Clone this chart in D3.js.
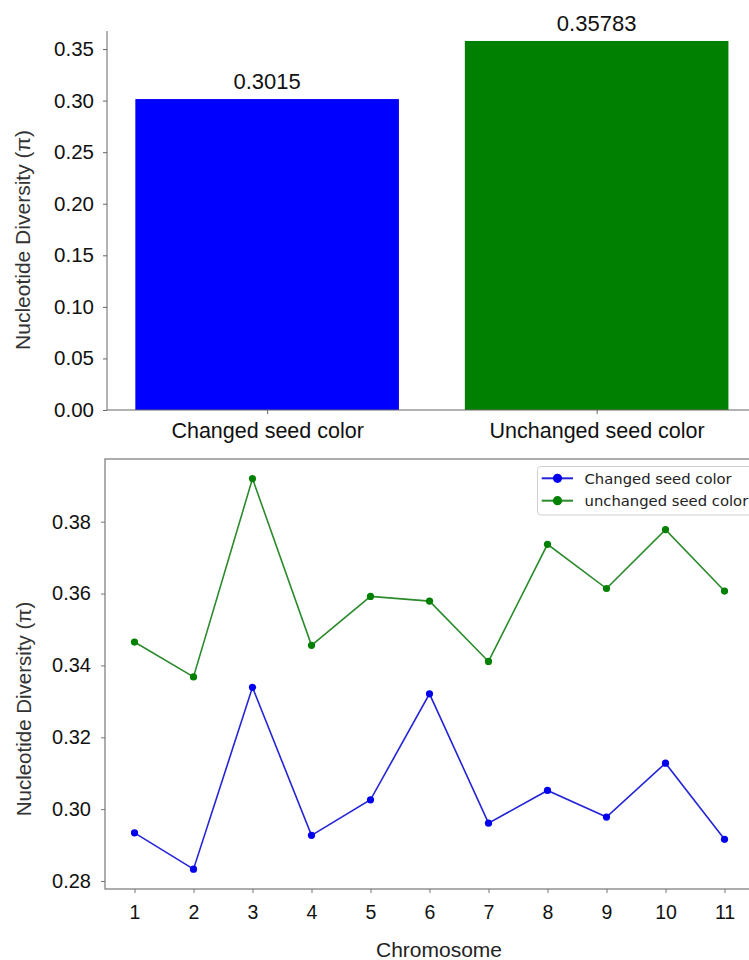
<!DOCTYPE html>
<html>
<head>
<meta charset="utf-8">
<script src="https://cdn.jsdelivr.net/npm/d3@7"></script>
<style>
  html, body { margin: 0; padding: 0; background: #fff; }
  svg { display: block; }
</style>
</head>
<body>
<svg id="chart" width="749" height="960"></svg>
<script>
// Mean nucleotide diversity per group (bar panel)
const groups = ["Changed seed color", "Unchanged seed color"];
const groupPi = [0.3015, 0.35783];
const groupColors = ["#0000ff", "#008000"];
const barTicks = [0, 0.05, 0.10, 0.15, 0.20, 0.25, 0.30, 0.35];

// Per-chromosome nucleotide diversity (line panel)
const chromosomes = [1, 2, 3, 4, 5, 6, 7, 8, 9, 10, 11];
const changedPi = [0.2934, 0.2833, 0.3339, 0.2927, 0.3026, 0.3321, 0.2961, 0.3052, 0.2978, 0.3128, 0.2916];
const unchangedPi = [0.3465, 0.3368, 0.3920, 0.3456, 0.3592, 0.3579, 0.3411, 0.3737, 0.3614, 0.3778, 0.3607];
const seriesNames = ["Changed seed color", "unchanged seed color"];
const lineTicks = [0.28, 0.30, 0.32, 0.34, 0.36, 0.38];

const svg = d3.select("#chart");
const FONT = "'Liberation Sans', Arial, sans-serif";
const yLabel = "Nucleotide Diversity (\u03c0)";

// ---------- Bar panel ----------
const barBox = { left: 107, right: 766, top: 31, bottom: 410 };
const xb = d3.scaleLinear().domain([-0.486, 1.514]).range([barBox.left, barBox.right]);
const yb = d3.scaleLinear().domain([0, 0.3675]).range([barBox.bottom, barBox.top]);
const barW = xb(0.8) - xb(0);

const gBar = svg.append("g");
gBar.selectAll("rect.bar")
  .data(groupPi)
  .join("rect")
  .attr("class", "bar")
  .attr("x", (d, i) => xb(i) - barW / 2)
  .attr("y", d => yb(d))
  .attr("width", barW)
  .attr("height", d => yb(0) - yb(d))
  .attr("fill", (d, i) => groupColors[i]);

gBar.selectAll("text.val")
  .data(groupPi)
  .join("text")
  .attr("class", "val")
  .attr("x", (d, i) => xb(i))
  .attr("y", d => yb(d) - 10)
  .attr("text-anchor", "middle")
  .attr("font-family", FONT)
  .attr("font-size", 22)
  .attr("fill", "#111")
  .text(d => d);

const yAxisBar = d3.axisLeft(yb).tickValues(barTicks).tickFormat(d3.format(".2f"))
  .tickSize(4).tickPadding(9);
const gyb = gBar.append("g").attr("transform", `translate(${barBox.left},0)`).call(yAxisBar);
gyb.select(".domain").remove();
gyb.selectAll(".tick line").attr("stroke", "#666");
gyb.selectAll(".tick text").attr("font-family", FONT).attr("font-size", 20.5).attr("fill", "#111");
gBar.append("line").attr("x1", barBox.left).attr("x2", barBox.left)
  .attr("y1", barBox.top).attr("y2", barBox.bottom).attr("stroke", "#666").attr("stroke-width", 1);

const xAxisBar = d3.axisBottom(xb).tickValues([0, 1]).tickFormat((d) => groups[d])
  .tickSize(4).tickPadding(9);
const gxb = gBar.append("g").attr("transform", `translate(0,${barBox.bottom})`).call(xAxisBar);
gxb.select(".domain").remove();
gxb.selectAll(".tick line").attr("stroke", "#666");
gxb.selectAll(".tick text").attr("font-family", FONT).attr("font-size", 21.5).attr("fill", "#111");
gBar.append("line").attr("x1", barBox.left).attr("x2", 749)
  .attr("y1", barBox.bottom).attr("y2", barBox.bottom).attr("stroke", "#666").attr("stroke-width", 1);

gBar.append("text")
  .attr("transform", `translate(22,240) rotate(-90)`)
  .attr("text-anchor", "middle")
  .attr("dominant-baseline", "central")
  .attr("font-family", FONT)
  .attr("font-size", 21)
  .attr("fill", "#333")
  .text(yLabel);

// ---------- Line panel ----------
const lineBox = { left: 105, right: 754, top: 459, bottom: 889 };
const xl = d3.scaleLinear().domain([0.5, 11.5]).range([lineBox.left, lineBox.right]);
const yl = d3.scaleLinear().domain([0.27777, 0.39745]).range([lineBox.bottom, lineBox.top]);

const gLine = svg.append("g");
gLine.append("rect")
  .attr("x", lineBox.left).attr("y", lineBox.top)
  .attr("width", lineBox.right - lineBox.left).attr("height", lineBox.bottom - lineBox.top)
  .attr("fill", "none").attr("stroke", "#777").attr("stroke-width", 1.2);

const yAxisLine = d3.axisLeft(yl).tickValues(lineTicks).tickFormat(d3.format(".2f"))
  .tickSize(4).tickPadding(10);
const gyl = gLine.append("g").attr("transform", `translate(${lineBox.left},0)`).call(yAxisLine);
gyl.select(".domain").remove();
gyl.selectAll(".tick line").attr("stroke", "#777");
gyl.selectAll(".tick text").attr("font-family", FONT).attr("font-size", 20).attr("fill", "#111");

const xAxisLine = d3.axisBottom(xl).tickValues(chromosomes).tickFormat(d3.format("d"))
  .tickSize(4).tickPadding(12);
const gxl = gLine.append("g").attr("transform", `translate(0,${lineBox.bottom})`).call(xAxisLine);
gxl.select(".domain").remove();
gxl.selectAll(".tick line").attr("stroke", "#777");
gxl.selectAll(".tick text").attr("font-family", FONT).attr("font-size", 19.5).attr("fill", "#111");

gLine.append("text")
  .attr("x", 439).attr("y", 957)
  .attr("text-anchor", "middle")
  .attr("font-family", FONT)
  .attr("font-size", 21)
  .attr("fill", "#222")
  .text("Chromosome");

gLine.append("text")
  .attr("transform", `translate(23,709) rotate(-90)`)
  .attr("text-anchor", "middle")
  .attr("dominant-baseline", "central")
  .attr("font-family", FONT)
  .attr("font-size", 20.5)
  .attr("fill", "#333")
  .text(yLabel);

const series = [
  { name: seriesNames[0], values: changedPi, line: "#2424d8", dot: "#0000ee" },
  { name: seriesNames[1], values: unchangedPi, line: "#2b8a2b", dot: "#008000" }
];
const lineGen = d3.line().x((d, i) => xl(chromosomes[i])).y(d => yl(d));

series.forEach(s => {
  gLine.append("path")
    .datum(s.values)
    .attr("d", lineGen)
    .attr("fill", "none")
    .attr("stroke", s.line)
    .attr("stroke-width", 1.6);
  gLine.selectAll(null)
    .data(s.values)
    .join("circle")
    .attr("cx", (d, i) => xl(chromosomes[i]))
    .attr("cy", d => yl(d))
    .attr("r", 3.6)
    .attr("fill", s.dot);
});

// Legend
const lg = gLine.append("g");
lg.append("rect")
  .attr("x", 537.5).attr("y", 466.5).attr("width", 230).attr("height", 48.5)
  .attr("rx", 3).attr("fill", "#fff").attr("stroke", "#d0d0d0").attr("stroke-width", 1);
series.forEach((s, i) => {
  const cy = 478.3 + i * 22.4;
  lg.append("line").attr("x1", 541.7).attr("x2", 573).attr("y1", cy).attr("y2", cy)
    .attr("stroke", s.line).attr("stroke-width", 2);
  lg.append("circle").attr("cx", 557.5).attr("cy", cy).attr("r", 4.6).attr("fill", s.dot);
  lg.append("text").attr("x", 584.5).attr("y", cy)
    .attr("dominant-baseline", "central")
    .attr("font-family", "'DejaVu Sans', sans-serif")
    .attr("font-size", 14.8)
    .attr("fill", "#222")
    .text(s.name);
});
</script>
</body>
</html>
